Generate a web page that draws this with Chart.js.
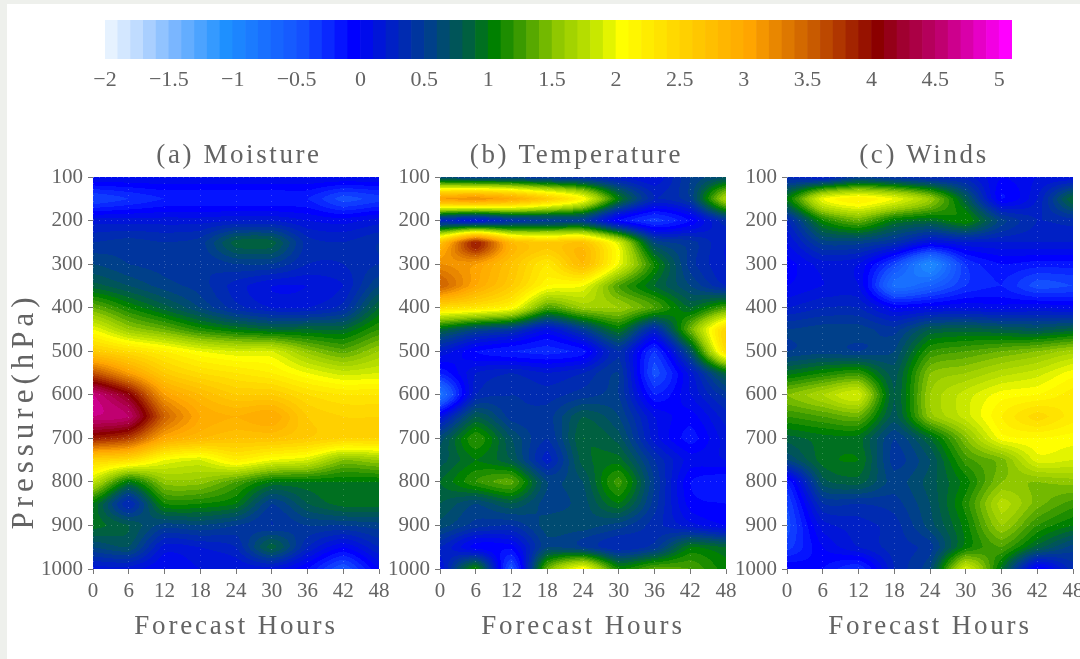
<!DOCTYPE html>
<html>
<head>
<meta charset="utf-8">
<title>Forecast error by pressure level</title>
<script src="https://cdn.jsdelivr.net/npm/chart.js@4"></script>
<style>
html, body { margin: 0; width: 1080px; height: 659px; overflow: hidden; background: #eef0ec; }
#sheet { position: absolute; left: 7px; top: 4px; width: 1073px; height: 655px; background: #fff; }
canvas { position: absolute; filter: blur(0.55px); }
</style>
</head>
<body>
<div id="sheet"></div>
<canvas id="colorBar" style="left:0;top:0"></canvas>
<canvas id="moistureChart" style="left:0;top:130px"></canvas>
<canvas id="temperatureChart" style="left:380px;top:130px"></canvas>
<canvas id="windsChart" style="left:727px;top:130px"></canvas>
<script>
// Axes
const hours = [0, 6, 12, 18, 24, 30, 36, 42, 48];
const levels = [100, 150, 200, 250, 300, 350, 400, 450, 500, 550, 600, 650, 700, 750, 800, 850, 900, 950, 1000];

// Values, one row per pressure level, one column per forecast hour
const moisture = [
    [0.1, 0.1, 0.1, 0.1, 0.1, 0.1, 0.1, 0.1, 0.1],
    [-0.4, -0.3, -0.2, -0.2, -0.2, -0.2, -0.2, -0.45, -0.35],
    [0.15, 0.15, 0.15, 0.15, 0.2, 0.2, 0.1, 0.05, 0.15],
    [0.4, 0.45, 0.4, 0.45, 0.85, 0.85, 0.35, 0.3, 0.4],
    [0.6, 0.5, 0.45, 0.4, 0.5, 0.5, 0.3, 0.3, 0.4],
    [0.85, 0.7, 0.55, 0.45, 0.25, 0.1, 0.1, 0.2, 0.6],
    [1.4, 1.1, 0.85, 0.6, 0.35, 0.2, 0.2, 0.35, 0.9],
    [2.0, 1.6, 1.4, 1.15, 1.0, 0.9, 0.9, 0.9, 1.2],
    [2.6, 2.4, 2.2, 2.0, 1.9, 1.9, 1.55, 1.35, 1.6],
    [3.6, 3.1, 2.6, 2.4, 2.3, 2.2, 2.0, 1.85, 1.9],
    [4.6, 4.1, 3.1, 2.8, 2.6, 2.6, 2.4, 2.3, 2.3],
    [4.6, 4.5, 3.5, 3.0, 2.9, 3.0, 2.6, 2.5, 2.5],
    [3.9, 3.7, 3.0, 2.8, 2.7, 2.7, 2.6, 2.5, 2.5],
    [2.5, 2.4, 2.0, 1.9, 2.2, 2.0, 1.9, 1.5, 1.6],
    [1.8, 1.0, 1.55, 1.55, 1.3, 1.0, 1.0, 1.0, 1.0],
    [1.0, 0.3, 1.1, 1.1, 1.0, 0.5, 0.8, 0.95, 0.95],
    [0.95, 0.8, 0.55, 0.6, 0.5, 0.4, 0.5, 0.5, 0.55],
    [0.6, 0.7, 0.15, 0.2, 0.3, 0.85, 0.3, 0.0, 0.3],
    [0.15, 0.15, 0.0, 0.1, 0.1, 0.15, -0.1, -0.5, 0.0]
];
const temperature = [
    [0.6, 0.5, 0.5, 0.4, 0.35, 0.2, 0.1, 0.5, 0.7],
    [3.1, 3.2, 3.0, 2.6, 2.1, 1.0, 0.3, 0.5, 1.7],
    [0.3, 0.15, 0.4, 0.5, 0.5, -0.1, -0.35, -0.1, 0.4],
    [2.7, 3.9, 2.8, 2.6, 2.7, 1.9, 0.6, 0.45, 0.2],
    [3.2, 3.1, 2.7, 2.3, 2.8, 2.0, 1.1, 0.45, 0.2],
    [3.5, 3.0, 2.6, 2.1, 2.0, 1.3, 0.9, 0.6, 0.3],
    [2.4, 2.3, 2.1, 1.3, 1.6, 1.6, 1.3, 0.9, 1.3],
    [0.9, 0.6, 0.45, 0.1, 0.5, 1.0, 0.3, 1.4, 2.5],
    [0.2, -0.1, -0.2, -0.25, -0.15, 0.4, -0.3, 0.7, 2.4],
    [-0.2, 0.2, 0.3, 0.2, 0.3, 0.5, -0.45, 0.15, 0.9],
    [-0.8, 0.3, 0.4, 0.35, 0.45, 0.5, -0.2, 0.1, 0.45],
    [0.1, 0.8, 0.45, 0.45, 0.8, 0.6, 0.1, -0.05, 0.25],
    [0.65, 1.2, 0.7, 0.4, 0.9, 0.75, 0.15, -0.15, 0.15],
    [0.75, 1.0, 0.8, 0.25, 0.85, 0.95, 0.4, 0.05, 0.1],
    [0.9, 1.2, 1.35, 0.6, 0.7, 1.25, 0.5, -0.1, -0.2],
    [0.8, 0.6, 0.8, 0.55, 0.65, 1.0, 0.45, -0.05, -0.1],
    [0.65, 0.45, 0.4, 0.65, 0.65, 0.55, 0.35, 0.15, 0.0],
    [0.3, -0.05, -0.05, 0.6, 0.5, 0.3, 0.45, 1.0, 0.9],
    [0.1, 1.1, -0.5, 1.4, 2.1, 1.1, 1.35, 1.3, 1.05]
];
const winds = [
    [0.3, 0.2, 0.5, 0.4, 0.3, 0.25, 0.0, 0.1, 0.1],
    [1.0, 2.0, 2.2, 2.0, 1.6, 0.8, -0.1, 0.2, 0.9],
    [0.3, 1.1, 1.4, 1.0, 0.9, 1.1, 0.55, 0.3, 0.35],
    [0.1, 0.55, 0.55, 0.4, 0.1, 0.2, 0.2, 0.2, 0.2],
    [-0.05, 0.15, 0.1, -0.4, -1.0, -0.3, -0.1, -0.15, -0.15],
    [0.0, 0.1, 0.1, -0.75, -0.6, -0.3, -0.2, -0.45, -0.4],
    [0.2, 0.3, 0.3, 0.0, 0.05, 0.1, 0.05, 0.1, 0.05],
    [0.5, 0.55, 0.55, 0.45, 0.8, 0.85, 0.8, 0.75, 0.85],
    [0.5, 0.55, 0.5, 0.6, 1.2, 1.3, 1.4, 1.5, 1.65],
    [0.95, 1.1, 1.2, 0.75, 1.5, 1.6, 1.75, 1.85, 2.05],
    [1.5, 1.7, 1.9, 0.8, 1.6, 1.85, 2.05, 2.1, 2.25],
    [1.2, 1.3, 1.4, 0.75, 1.55, 1.85, 2.2, 2.45, 2.25],
    [0.85, 0.95, 0.95, 0.5, 0.9, 1.5, 2.05, 2.1, 2.05],
    [0.6, 0.95, 1.0, 0.45, 0.7, 1.25, 1.45, 1.95, 1.9],
    [-0.2, 0.75, 0.85, 0.55, 0.75, 1.05, 1.5, 1.5, 1.55],
    [-0.4, 0.4, 0.4, 0.45, 0.7, 1.15, 1.75, 1.45, 1.25],
    [-0.45, 0.15, 0.25, 0.35, 0.65, 1.05, 1.6, 1.2, 1.0],
    [-0.35, 0.0, 0.2, 0.35, 0.45, 1.05, 1.3, 0.85, 0.55],
    [0.0, -0.1, -0.3, 0.3, 0.6, 1.9, 0.95, -0.1, 0.35]
];

// Colour bar: one swatch per 0.1, starting at each of these values
const colorLevels = [
    -2, -1.9, -1.8, -1.7, -1.6, -1.5, -1.4, -1.3, -1.2, -1.1,
    -1, -0.9, -0.8, -0.7, -0.6, -0.5, -0.4, -0.3, -0.2, -0.1,
    0, 0.1, 0.2, 0.3, 0.4, 0.5, 0.6, 0.7, 0.8, 0.9,
    1, 1.1, 1.2, 1.3, 1.4, 1.5, 1.6, 1.7, 1.8, 1.9,
    2, 2.1, 2.2, 2.3, 2.4, 2.5, 2.6, 2.7, 2.8, 2.9,
    3, 3.1, 3.2, 3.3, 3.4, 3.5, 3.6, 3.7, 3.8, 3.9,
    4, 4.1, 4.2, 4.3, 4.4, 4.5, 4.6, 4.7, 4.8, 4.9, 5
];
const stopValues = [-2, -1.8, -1.5, -1.1, -0.5, -0.1, 0.5, 0.8, 1, 1.2, 1.5, 1.8, 2, 2.5, 3, 3.5, 4, 4.2, 4.5, 5];
const stopColors = [
    [230, 242, 255], [192, 220, 255], [122, 182, 255], [30, 144, 255], [20, 80, 255], [0, 0, 255],
    [0, 64, 138], [0, 96, 64], [0, 128, 0], [58, 154, 0], [144, 200, 0], [200, 232, 0],
    [255, 255, 0], [255, 208, 0], [255, 165, 0], [200, 90, 0], [139, 0, 0], [160, 0, 48],
    [192, 0, 112], [255, 0, 255]
];

const textColor = '#636363';
const serifFont = "'Liberation Serif', serif";

// Swatch colour for a given level
function colorAt(value) {
    let i = stopValues.length - 2;
    while (i > 0 && value < stopValues[i]) i--;
    const t = Math.min(1, Math.max(0, (value - stopValues[i]) / (stopValues[i + 1] - stopValues[i])));
    return stopColors[i].map((c, k) => Math.round(c + (stopColors[i + 1][k] - c) * t));
}
const palette = colorLevels.map(colorAt);

function swatchFor(value) {
    let i = Math.floor((value + 2) * 10 + 1e-6);
    return palette[Math.min(palette.length - 1, Math.max(0, i))];
}

function bracket(list, v) {
    let i = 0;
    while (i < list.length - 2 && v > list[i + 1]) i++;
    return [i, Math.min(1, Math.max(0, (v - list[i]) / (list[i + 1] - list[i])))];
}

// Half Catmull-Rom, half straight line: keeps the pointed contours without hard stars
function curve(a, b, c, d, t) {
    const cubic = b + 0.5 * t * (c - a + t * (2 * a - 5 * b + 4 * c - d + t * (3 * (b - c) + d - a)));
    return 0.5 * cubic + 0.5 * (b + (c - b) * t);
}

function rowAt(row, c, t) {
    const last = row.length - 1;
    return curve(row[Math.max(0, c - 1)], row[c], row[c + 1], row[Math.min(last, c + 2)], t);
}

// Paints the field of the first dataset into the plot area using the chart's scales
const contourField = {
    id: 'contourField',
    beforeDatasetsDraw(chart) {
        const rows = chart.data.datasets[0].field;
        const { left, top, right, bottom } = chart.chartArea;
        const w = Math.round(right - left), h = Math.round(bottom - top);
        const img = chart.ctx.createImageData(w, h);
        const last = rows.length - 1;
        for (let py = 0; py < h; py++) {
            const [r, tr] = bracket(levels, chart.scales.y.getValueForPixel(top + py + 0.5));
            for (let px = 0; px < w; px++) {
                const [c, tc] = bracket(hours, chart.scales.x.getValueForPixel(left + px + 0.5));
                const value = curve(
                    rowAt(rows[Math.max(0, r - 1)], c, tc),
                    rowAt(rows[r], c, tc),
                    rowAt(rows[r + 1], c, tc),
                    rowAt(rows[Math.min(last, r + 2)], c, tc),
                    tr
                );
                const rgb = swatchFor(value);
                const at = (py * w + px) * 4;
                img.data[at] = rgb[0];
                img.data[at + 1] = rgb[1];
                img.data[at + 2] = rgb[2];
                img.data[at + 3] = 255;
            }
        }
        chart.ctx.putImageData(img, Math.round(left), Math.round(top));
        // The axis title is drawn after this hook, the tick labels before it
        chart.ctx.letterSpacing = '2.8px';
    }
};

// Panel title, not quite centred over the plot in the reference
const panelTitle = {
    id: 'panelTitle',
    afterDraw(chart, args, opts) {
        const ctx = chart.ctx;
        ctx.save();
        ctx.font = `27px ${serifFont}`;
        ctx.letterSpacing = '2.6px';
        ctx.fillStyle = textColor;
        ctx.textAlign = 'center';
        ctx.textBaseline = 'middle';
        ctx.fillText(opts.text, opts.center, 26);
        ctx.restore();
    }
};

// The pressure label sits lower than the middle of the axis
const pressureLabel = {
    id: 'pressureLabel',
    afterDraw(chart) {
        const ctx = chart.ctx;
        ctx.save();
        ctx.translate(25, 281);
        ctx.rotate(-Math.PI / 2);
        ctx.font = `31px ${serifFont}`;
        ctx.letterSpacing = '5px';
        ctx.fillStyle = textColor;
        ctx.textAlign = 'center';
        ctx.textBaseline = 'middle';
        ctx.fillText('Pressure(hPa)', 0, 0);
        ctx.restore();
    }
};

function createPanel(id, title, titleCenter, rows, width, axisWidth, extraPlugins) {
    const canvas = document.getElementById(id);
    canvas.width = width;
    canvas.height = 529;
    const nodes = [];
    rows.forEach((row, r) => row.forEach((v, c) => nodes.push({ x: hours[c], y: levels[r], v })));
    new Chart(canvas, {
        type: 'scatter',
        data: { datasets: [{ data: nodes, field: rows, pointRadius: 0 }] },
        plugins: [contourField, panelTitle].concat(extraPlugins || []),
        options: {
            responsive: false,
            animation: false,
            layout: { padding: { right: width - axisWidth - 286, top: 47 } },
            plugins: {
                legend: { display: false },
                tooltip: { enabled: false },
                panelTitle: { text: title, center: titleCenter }
            },
            scales: {
                x: {
                    type: 'linear',
                    min: 0,
                    max: 48,
                    afterFit: s => { s.height = 90; },
                    border: { display: false, dash: [1, 5] },
                    grid: { z: 1, color: 'rgba(255,255,255,0.22)', tickColor: '#777', tickLength: 5 },
                    ticks: {
                        stepSize: 6,
                        maxRotation: 0,
                        autoSkip: false,
                        padding: 5,
                        color: textColor,
                        font: { family: serifFont, size: 21 }
                    },
                    title: {
                        display: true,
                        text: 'Forecast Hours',
                        color: textColor,
                        font: { family: serifFont, size: 27, weight: 'normal', lineHeight: 1.2 },
                        padding: { top: 0, bottom: 16 }
                    }
                },
                y: {
                    type: 'linear',
                    reverse: true,
                    min: 100,
                    max: 1000,
                    afterFit: s => { s.width = axisWidth; },
                    border: { display: false, dash: [1, 5] },
                    grid: { z: 1, color: 'rgba(255,255,255,0.22)', tickColor: '#777', tickLength: 5 },
                    ticks: {
                        stepSize: 100,
                        autoSkip: false,
                        padding: 5,
                        color: textColor,
                        font: { family: serifFont, size: 21 },
                        callback: v => String(v)
                    }
                }
            }
        }
    });
}

function createColorBar() {
    const canvas = document.getElementById('colorBar');
    canvas.width = 1080;
    canvas.height = 100;
    new Chart(canvas, {
        type: 'bar',
        data: {
            datasets: [{
                data: colorLevels.map(v => ({ x: v + 0.05, y: 1 })),
                backgroundColor: palette.map(c => `rgb(${c.join(',')})`),
                borderWidth: 0,
                barPercentage: 1,
                categoryPercentage: 1
            }]
        },
        options: {
            responsive: false,
            animation: false,
            layout: { padding: { left: 105, right: 68, top: 20 } },
            plugins: { legend: { display: false }, tooltip: { enabled: false } },
            scales: {
                x: {
                    type: 'linear',
                    min: -2,
                    max: 5.1,
                    offset: false,
                    afterFit: s => { s.height = 41; },
                    border: { display: false },
                    grid: { display: false, drawTicks: false },
                    ticks: {
                        stepSize: 0.5,
                        includeBounds: false,
                        maxRotation: 0,
                        autoSkip: false,
                        padding: 8,
                        color: textColor,
                        font: { family: serifFont, size: 22 },
                        callback: v => String(v).replace('-', '\u2212')
                    }
                },
                y: { display: false, min: 0, max: 1 }
            }
        }
    });
}

createColorBar();
createPanel('moistureChart', '(a) Moisture', 239, moisture, 410, 93, [pressureLabel]);
createPanel('temperatureChart', '(b) Temperature', 196.5, temperature, 366, 60);
createPanel('windsChart', '(c) Winds', 197, winds, 373, 60);
</script>
</body>
</html>
